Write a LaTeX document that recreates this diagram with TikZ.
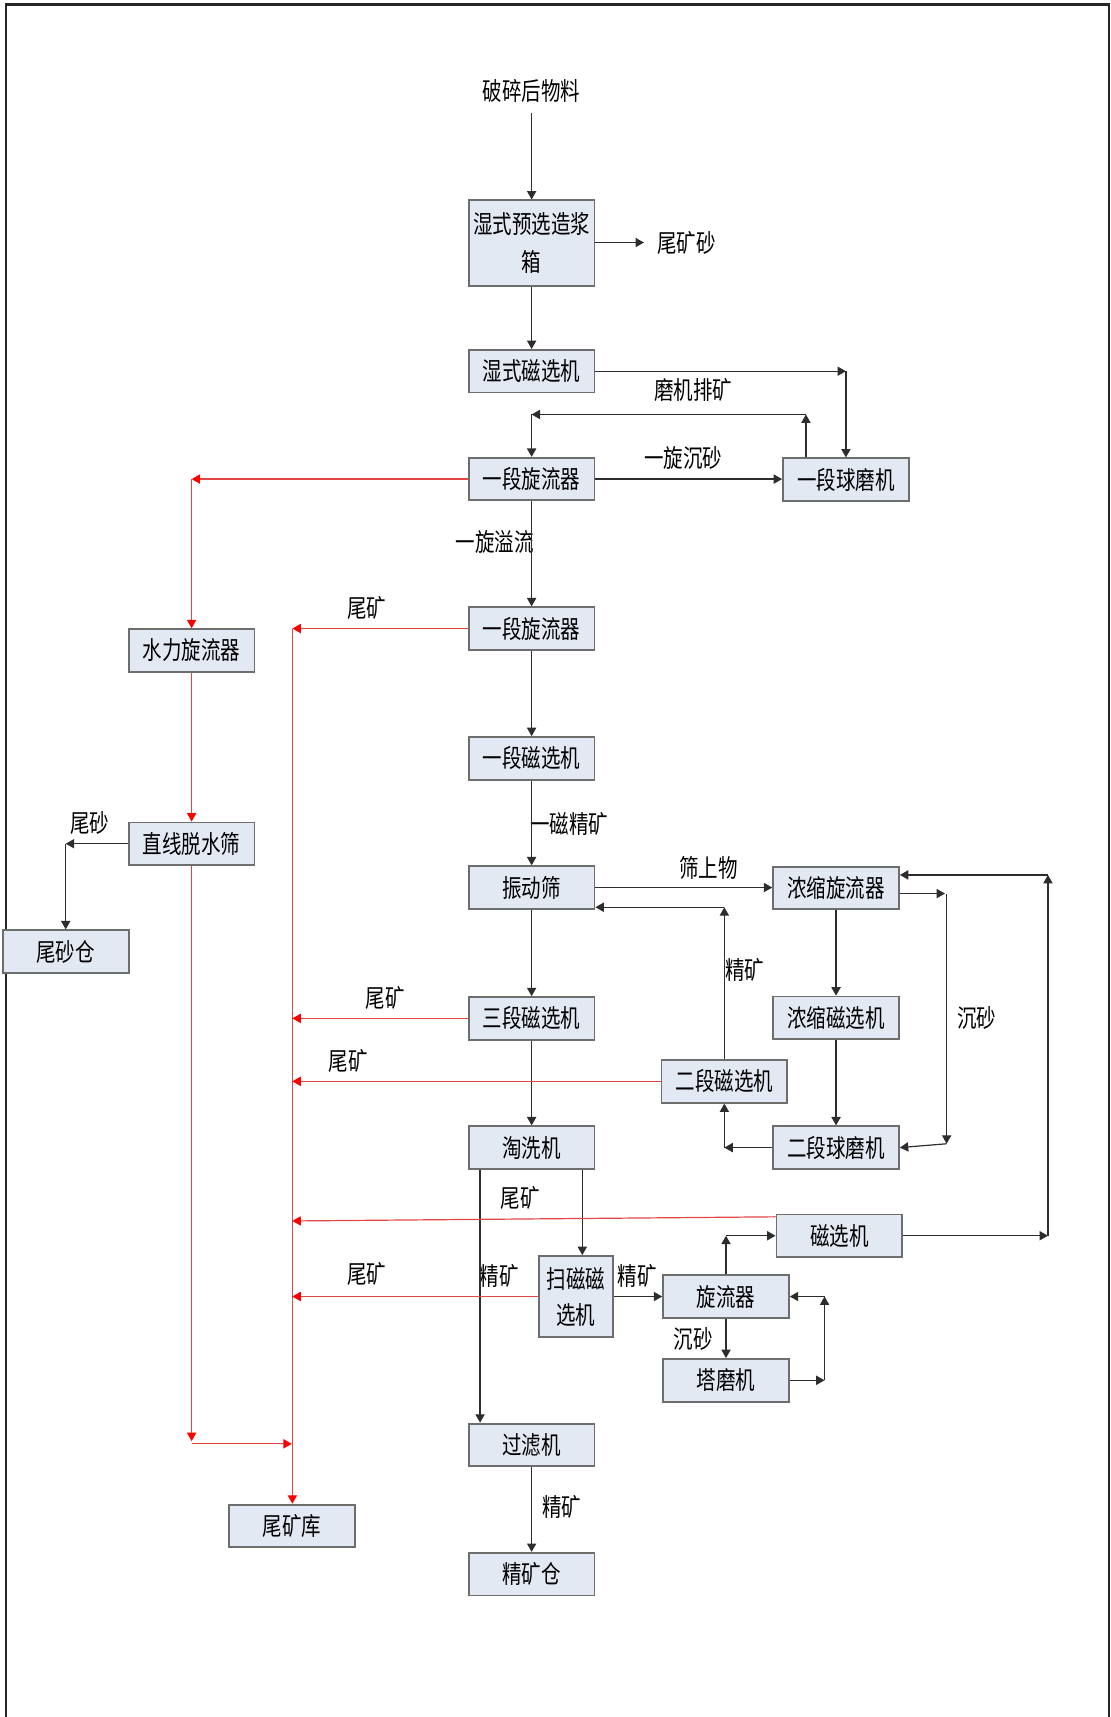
\documentclass[tikz,border=0pt]{standalone}
\usepackage{fontspec}
\newfontfamily\cjk[FakeStretch=0.78]{Noto Sans CJK SC}
\usetikzlibrary{arrows.meta,calc}
\definecolor{boxfill}{RGB}{227,233,243}
\definecolor{boxline}{RGB}{110,110,110}
\definecolor{lineblk}{RGB}{45,45,45}
\definecolor{linered}{RGB}{228,70,70}
\begin{document}
\begin{tikzpicture}[x=0.5474pt,y=-0.5474pt,
  every node/.style={font=\cjk\fontsize{12.5}{15}\selectfont, inner sep=0pt},
  boxn/.style={draw=boxline, fill=boxfill, line width=0.9pt, minimum width=62.9pt, minimum height=21.3pt, align=center},
  arr/.style={draw=lineblk, line width=0.6pt, -{Triangle[length=4.2pt,width=4.6pt]}},
  rarr/.style={draw=linered, line width=0.6pt, -{Triangle[length=4.2pt,width=4.6pt,fill=red,color=red]}}]
\useasboundingbox (0,0) rectangle (1014,1568);
\draw[line width=1.2pt, black!85] (5.5,1570) -- (5.5,4) -- (1012.5,4) -- (1012.5,1570);

% nodes
\node (feed) at (485.5,83.5) {破碎后物料};
\node[boxn, minimum height=42.7pt] (box1) at (485.5,222) {湿式预选造浆\\[4pt]箱};
\node (tks) at (627,221.5) {尾矿砂};
\node[boxn] (box2) at (485.5,339) {湿式磁选机};
\node[boxn] (box3) at (485.5,437.5) {一段旋流器};
\node[boxn] (ball1) at (772.5,438) {一段球磨机};
\node[boxn] (hyd) at (175,594) {水力旋流器};
\node[boxn] (box4) at (485.5,574) {一段旋流器};
\node[boxn] (box5) at (485.5,692.5) {一段磁选机};
\node[boxn] (dw) at (175,770.5) {直线脱水筛};
\node[boxn] (sandbin) at (60,869) {尾砂仓};
\node[boxn] (vib) at (485.5,810.5) {振动筛};
\node[boxn] (conc) at (763.5,811) {浓缩旋流器};
\node[boxn] (cmag) at (763.5,929.5) {浓缩磁选机};
\node[boxn] (mag3) at (485.5,930) {三段磁选机};
\node[boxn] (mag2) at (661.5,987.5) {二段磁选机};
\node[boxn] (ball2) at (763.5,1048) {二段球磨机};
\node[boxn] (wash) at (485.5,1048) {淘洗机};
\node[boxn] (magR) at (766.5,1128.5) {磁选机};
\node[boxn, minimum width=37.2pt, minimum height=40.5pt] (scav) at (526,1184) {扫磁磁\\[3pt]选机};
\node[boxn] (cyc) at (663,1184) {旋流器};
\node[boxn] (tower) at (663,1260.5) {塔磨机};
\node[boxn] (filter) at (485.5,1319.5) {过滤机};
\node[boxn] (conbin) at (485.5,1437.5) {精矿仓};
\node[boxn] (tail) at (266.5,1393.5) {尾矿库};

% labels
\node (l1) at (633,356) {磨机排矿};
\node (l2) at (624,418) {一旋沉砂};
\node[anchor=east] (l3) at (488,495) {一旋溢流};
\node (l4) at (335,555) {尾矿};
\node[anchor=west] (l5) at (484,752) {一磁精矿};
\node (l6) at (647,793) {筛上物};
\node[anchor=west] (l7) at (662,886) {精矿};
\node (l8) at (892,929.5) {沉砂};
\node (l9) at (352,911) {尾矿};
\node (l10) at (318,968.5) {尾矿};
\node (l11) at (82,752) {尾砂};
\node (l12) at (475,1094) {尾矿};
\node (l13) at (456,1165) {精矿};
\node (l14) at (335,1163) {尾矿};
\node (l15) at (582,1165) {精矿};
\node (l16) at (633,1223) {沉砂};
\node (l17) at (513,1376) {精矿};

% coordinates
\coordinate (c1) at (ball1.north |- box2.east);
\coordinate (c2) at (736,378.5);
\coordinate (c2b) at (c2 |- ball1.north);
\coordinate (c3) at (box3.north |- c2);
\coordinate (c4) at (661.5,828.5);
\coordinate (c4b) at (vib.east |- c4);
\coordinate (c5) at (863,816);
\coordinate (c6) at (864.5,1044.5);
\coordinate (c7) at (mag2.south |- ball2.west);
\coordinate (c8) at (957,1128.5);
\coordinate (c9) at (957,799);
\coordinate (c9b) at (conc.east |- c9);
\coordinate (c10) at (753,1260.5);
\coordinate (c11) at (753,1184);
\coordinate (c12) at (cyc.north |- magR.west);
\coordinate (w1) at ($(wash.south west)+(11.2,0)$);
\coordinate (w2) at (w1 |- filter.north);
\coordinate (w3) at ($(wash.south east)+(-12,0)$);
\coordinate (w4) at (w3 |- scav.north);
\coordinate (d1) at (60,770.5);
\coordinate (r1) at (hyd.north |- box3.west);
\coordinate (r2) at (267,574);
\coordinate (r3) at (175,1316);
\coordinate (r4) at (266.5,1318.5);
\coordinate (rm) at ($(magR.north west)+(0,3)$);
\coordinate (rm2) at (267,1115);

% black connectors
\draw[arr, shorten <=5pt] (feed.south) -- (box1.north);
\draw[arr, shorten >=6.5pt] (box1.east |- tks.west) -- (tks.west);
\draw[arr] (box1.south) -- (box2.north);
\draw[arr] (box2.east) -- (c1);
\draw[arr] (c1) -- (ball1.north);
\draw[arr] (c2b) -- (c2);
\draw[arr] (c2) -- (c3);
\draw[arr] (c3) -- (box3.north);
\draw[arr] (box3.east) -- (ball1.west |- box3.east);
\draw[arr] (box3.south) -- (box4.north);
\draw[arr] (box4.south) -- (box5.north);
\draw[arr] (box5.south) -- (vib.north);
\draw[arr] (vib.east) -- (conc.west |- vib.east);
\draw[arr] (mag2.north) -- (c4);
\draw[arr] (c4) -- (c4b);
\draw[arr] (vib.south) -- (mag3.north);
\draw[arr] (mag3.south) -- (wash.north);
\draw[arr] (conc.south) -- (cmag.north);
\draw[arr] (cmag.south) -- (ball2.north);
\draw[arr] (conc.east |- c5) -- (c5);
\draw[arr] (c5 -| c6) -- (c6);
\draw[arr] (c6) -- (ball2.east);
\draw[arr] (ball2.west) -- (c7);
\draw[arr] (c7) -- (mag2.south);
\draw[arr] (w1) -- (w2);
\draw[arr] (w3) -- (w4);
\draw[arr] (scav.east |- cyc.west) -- (cyc.west);
\draw[arr] (cyc.north) -- (c12);
\draw[arr] (c12) -- (magR.west);
\draw[arr] (cyc.south) -- (tower.north);
\draw[arr] (tower.east) -- (c10);
\draw[arr] (c10) -- (c11);
\draw[arr] (c11) -- (cyc.east);
\draw[arr] (magR.east) -- (c8);
\draw[arr] (c8) -- (c9);
\draw[arr] (c9) -- (c9b);
\draw[arr] (filter.south) -- (conbin.north);
\draw[arr] (dw.west) -- (d1);
\draw[arr] (d1) -- (sandbin.north);

% red connectors
\draw[rarr] (box3.west) -- (r1);
\draw[rarr] (r1) -- (hyd.north);
\draw[rarr] (box4.west) -- (r2);
\draw[rarr] (r2) -- (r2 |- tail.north);
\draw[rarr] (hyd.south) -- (dw.north);
\draw[rarr] (dw.south) -- (r3);
\draw[rarr] (r3 |- r4) -- (r4);
\draw[rarr] (mag3.west) -- (r2 |- mag3.west);
\draw[rarr] (mag2.west) -- (r2 |- mag2.west);
\draw[rarr] (rm) -- (rm2);
\draw[rarr] (scav.west) -- (r2 |- scav.west);
\end{tikzpicture}
\end{document}
